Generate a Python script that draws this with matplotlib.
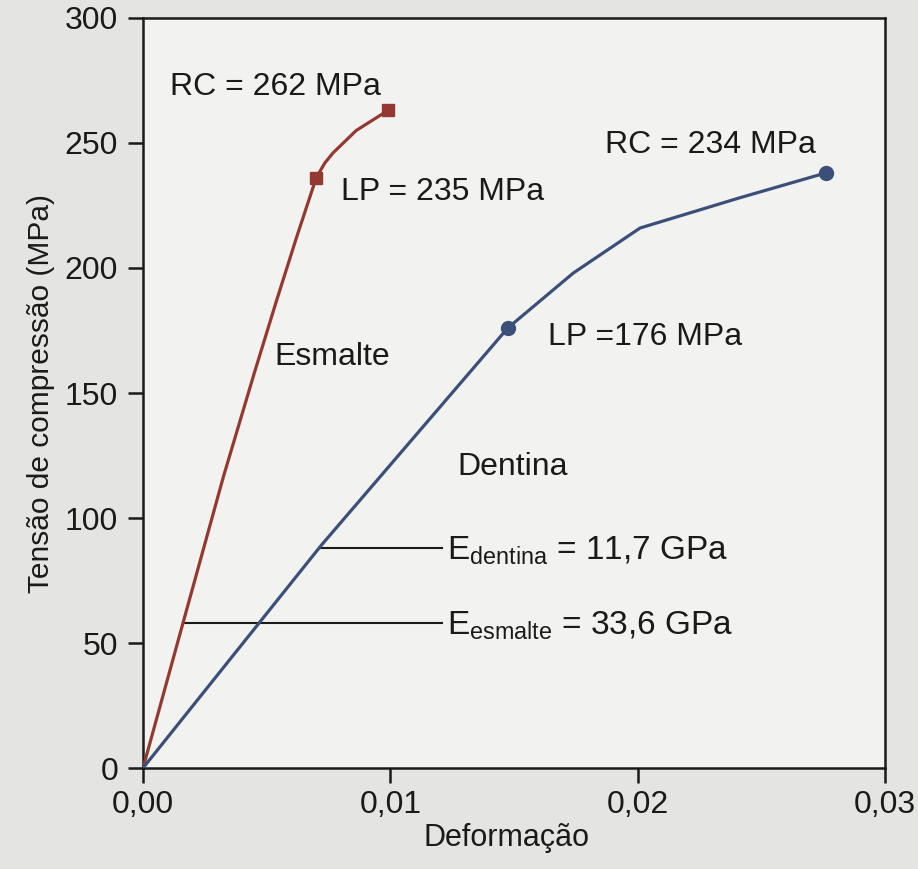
import matplotlib.pyplot as plt

plt.rcParams['font.family'] = ['Liberation Sans', 'DejaVu Sans']
plt.rcParams['mathtext.fontset'] = 'custom'
plt.rcParams['mathtext.rm'] = 'Liberation Sans'
plt.rcParams['mathtext.it'] = 'Liberation Sans'

# curves (strain, MPa)
esmalte_strain = [0.0, 0.00163, 0.00325, 0.0045, 0.0054, 0.0062, 0.0070, 0.00735, 0.00768, 0.00862, 0.0099]
esmalte_stress = [0, 58.5, 116.5, 158, 187, 212, 236, 242, 246, 255, 263]
esmalte_marks = [6, 10]

dentina_strain = [0.0, 0.0072, 0.01475, 0.0174, 0.0201, 0.0241, 0.0276]
dentina_stress = [0, 89, 176, 198, 216, 228, 238]
dentina_marks = [2, 6]

# moduli marker lines: (y, x start, x end)
e_lines = [(58, 0.0016, 0.0121), (88, 0.0072, 0.0121)]

red = '#943832'
blue = '#3b4f78'
ink = '#1a1a1a'

fig = plt.figure(figsize=(9.18, 8.69), dpi=100, facecolor='#e4e4e2')
ax = fig.add_axes([0.1558, 0.1162, 0.8082, 0.8631])
ax.set_facecolor('#f2f3f0')

ax.plot(esmalte_strain, esmalte_stress, color=red, lw=2.3, marker='s', ms=9,
        markevery=esmalte_marks, zorder=3)
ax.plot(dentina_strain, dentina_stress, color=blue, lw=2.3, marker='o', ms=10,
        markevery=dentina_marks, zorder=3)

for y, x0, x1 in e_lines:
    ax.plot([x0, x1], [y, y], color=ink, lw=1.5, zorder=2)

fs = 23
ax.text(0.0011, 269.2, 'RC = 262 MPa', fontsize=fs, color=ink)
ax.text(0.0080, 227.2, 'LP = 235 MPa', fontsize=fs, color=ink)
ax.text(0.0187, 246, 'RC = 234 MPa', fontsize=fs, color=ink)
ax.text(0.01636, 169.2, 'LP =176 MPa', fontsize=fs, color=ink)
ax.text(0.0053, 161.2, 'Esmalte', fontsize=fs, color=ink)
ax.text(0.0127, 117.2, 'Dentina', fontsize=fs, color=ink)
ax.text(0.0123, 83.2, r'E$_{\mathrm{dentina}}$ = 11,7 GPa', fontsize=24, color=ink)
ax.text(0.0123, 53.2, r'E$_{\mathrm{esmalte}}$ = 33,6 GPa', fontsize=24, color=ink)

ax.set_xlim(0, 0.03)
ax.set_ylim(0, 300)
ax.set_xticks([0, 0.01, 0.02, 0.03])
ax.set_xticklabels(['0,00', '0,01', '0,02', '0,03'])
ax.set_yticks([0, 50, 100, 150, 200, 250, 300])
ax.tick_params(direction='out', length=11, width=1.8, labelsize=23, color=ink, labelcolor=ink)
ax.tick_params(axis='y', pad=7)
ax.tick_params(axis='x', pad=5)

for s in ax.spines.values():
    s.set_linewidth(1.8)
    s.set_color(ink)

ax.set_xlabel('Deformação', fontsize=22, color=ink)
ax.set_ylabel('Tensão de compressão (MPa)', fontsize=21.5, color=ink)
ax.xaxis.set_label_coords(0.49, -0.073)
ax.yaxis.set_label_coords(-0.118, 0.5)

fig.savefig('out.png', dpi=100, facecolor=fig.get_facecolor())
